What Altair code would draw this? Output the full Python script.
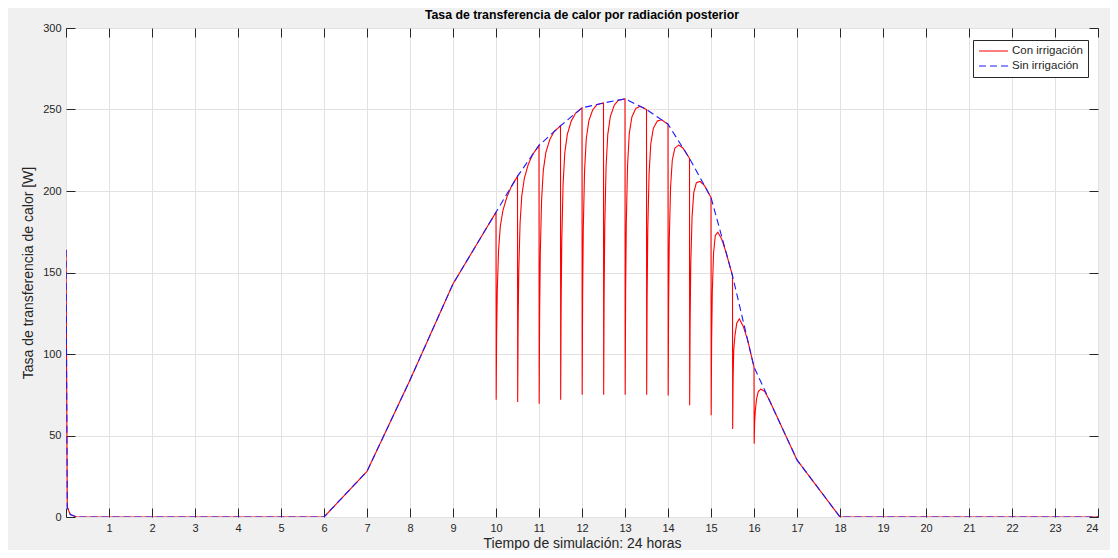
import altair as alt
import pandas as pd

# ---- data ----
series = ["Con irrigación", "Sin irrigación"]
colors = ["#ff0000", "#1a1aff"]
dashes = [[1, 0], [7, 4]]

x_ticks = list(range(0, 25))
y_ticks = [0, 50, 100, 150, 200, 250, 300]

# Sin irrigación (dashed blue)
t_sin = [0, 0.03, 0.1, 0.25, 6, 7, 8, 9, 10, 10.5, 11, 11.5, 12, 12.5, 13,
         13.5, 14, 14.5, 15, 15.5, 16, 17, 18, 24]
v_sin = [164, 6, 1.5, 0, 0, 28, 84, 143, 187, 209, 228, 240, 251, 254, 256.5,
         250, 241, 220, 196, 148, 92, 35, 0, 0]

# Con irrigación (solid red)
t_con = [0, 0.03, 0.1, 0.25, 6, 7, 8, 9, 10,
         10.004, 10.015, 10.03, 10.06, 10.1, 10.16, 10.25, 10.35, 10.5,
         10.504, 10.515, 10.53, 10.56, 10.6, 10.66, 10.75, 10.85, 11,
         11.004, 11.015, 11.03, 11.06, 11.1, 11.16, 11.25, 11.35, 11.5,
         11.504, 11.515, 11.53, 11.56, 11.6, 11.66, 11.75, 11.85, 12,
         12.004, 12.015, 12.03, 12.06, 12.1, 12.16, 12.25, 12.35, 12.5,
         12.504, 12.515, 12.53, 12.56, 12.6, 12.66, 12.75, 12.85, 13,
         13.004, 13.015, 13.03, 13.06, 13.1, 13.16, 13.25, 13.35, 13.5,
         13.504, 13.515, 13.53, 13.56, 13.6, 13.66, 13.75, 13.85, 14,
         14.004, 14.015, 14.03, 14.06, 14.1, 14.16, 14.25, 14.35, 14.5,
         14.504, 14.515, 14.53, 14.56, 14.6, 14.66, 14.75, 14.85, 15,
         15.004, 15.015, 15.03, 15.06, 15.1, 15.16, 15.25, 15.35, 15.5,
         15.504, 15.515, 15.53, 15.56, 15.6, 15.66, 15.75, 15.85, 16,
         16.004, 16.015, 16.03, 16.06, 16.1, 16.16, 16.25, 16.35, 17, 18, 24]
v_con = [164, 6, 1.5, 0, 0, 28, 84, 143, 187,
         72, 112.5, 139.5, 163.7, 178.3, 187.9, 196.1, 202.4, 209,
         70.5, 119.2, 151.5, 180.3, 197.1, 207.9, 216.3, 222.3, 228,
         69.5, 125.1, 161.8, 194.2, 212.7, 223.7, 231.5, 236.4, 240,
         72, 130.9, 169.8, 204.1, 223.5, 234.9, 242.9, 247.7, 251,
         75, 136.6, 177.2, 212.6, 232.2, 243.2, 249.8, 253.1, 254,
         75, 137.7, 178.9, 214.9, 234.8, 245.8, 252.6, 255.8, 256.5,
         75, 138.5, 180.0, 216.0, 235.4, 245.4, 250.6, 252.0, 250,
         75, 136.1, 176.2, 210.6, 229.1, 238.5, 242.9, 243.7, 241,
         74.5, 132.6, 170.3, 202.4, 219.0, 226.3, 228.2, 226.3, 220,
         68.5, 121.3, 155.6, 184.4, 199.1, 205.1, 205.9, 203.2, 196,
         62.5, 108.7, 138.2, 162.1, 172.8, 174.7, 170.4, 162.4, 148,
         54, 86.3, 103, 112, 119, 121.5, 117, 108.8, 92,
         45, 58, 65, 72.5, 77, 78.5, 77, 72.1, 35, 0, 0]

df_con = pd.DataFrame({"t": t_con, "v": v_con, "serie": series[0]})
df_sin = pd.DataFrame({"t": t_sin, "v": v_sin, "serie": series[1]})

FONT = "Liberation Sans"
INK = "#262626"

legend = alt.Legend(
    title=None, orient="none", legendX=907, legendY=12,
    strokeColor=INK, fillColor="white", padding=5, cornerRadius=0,
    symbolType="stroke", symbolSize=841, symbolStrokeWidth=1.2,
    clipHeight=12,
    labelFont=FONT, labelFontSize=11.5, labelColor=INK, labelOffset=3,
    rowPadding=3,
)

color_enc = alt.Color("serie:N", scale=alt.Scale(domain=series, range=colors), legend=legend)
dash_enc = alt.StrokeDash("serie:N", scale=alt.Scale(domain=series, range=dashes), legend=legend)

x_scale = alt.Scale(domain=[0, 24], nice=False, zero=False)
y_scale = alt.Scale(domain=[0, 300], nice=False)

common_axis = dict(domain=False, offset=-9, tickSize=9, tickColor=INK, tickWidth=1,
                   labelFont=FONT, labelFontSize=11, labelColor=INK,
                   titleFont=FONT, titleFontSize=14, titleFontWeight="normal", titleColor=INK)

x_bottom = alt.Axis(orient="bottom", values=x_ticks,
                    labelExpr="datum.value == 0 ? '' : datum.label",
                    grid=True, gridColor="#e2e2e2", labelPadding=5,
                    title="Tiempo de simulación: 24 horas", titlePadding=3, **common_axis)
y_left = alt.Axis(orient="left", values=y_ticks, grid=True, gridColor="#e2e2e2",
                  labelPadding=5, title="Tasa de transferencia de calor [W]",
                  titlePadding=7, **common_axis)
x_top = alt.Axis(orient="top", values=x_ticks, labels=False, grid=False, title=None, **common_axis)
y_right = alt.Axis(orient="right", values=y_ticks, labels=False, grid=False, title=None, **common_axis)

red = alt.Chart(df_con).mark_line(strokeWidth=1.1, clip=True).encode(
    x=alt.X("t:Q", scale=x_scale, axis=x_bottom),
    y=alt.Y("v:Q", scale=y_scale, axis=y_left),
    color=color_enc, strokeDash=dash_enc,
)
blue = alt.Chart(df_sin).mark_line(strokeWidth=1.1, clip=True).encode(
    x=alt.X("t:Q", scale=x_scale, axis=x_top),
    y=alt.Y("v:Q", scale=y_scale, axis=y_right),
    color=color_enc, strokeDash=dash_enc,
)

chart = alt.layer(red, blue).resolve_axis(x="independent", y="independent").properties(
    width=1032, height=489,
    title=alt.TitleParams("Tasa de transferencia de calor por radiación posterior",
                          font=FONT, fontSize=12.3, fontWeight="bold", color="#000000",
                          anchor="middle", offset=1),
    autosize=alt.AutoSizeParams(type="none"),
    padding={"left": 58, "top": 20, "right": 12, "bottom": 33},
    background="#f0f0f0",
).configure_view(stroke=INK, strokeWidth=1, fill="white")

chart.save("out.html", embed_options={"renderer": "svg", "actions": False})
